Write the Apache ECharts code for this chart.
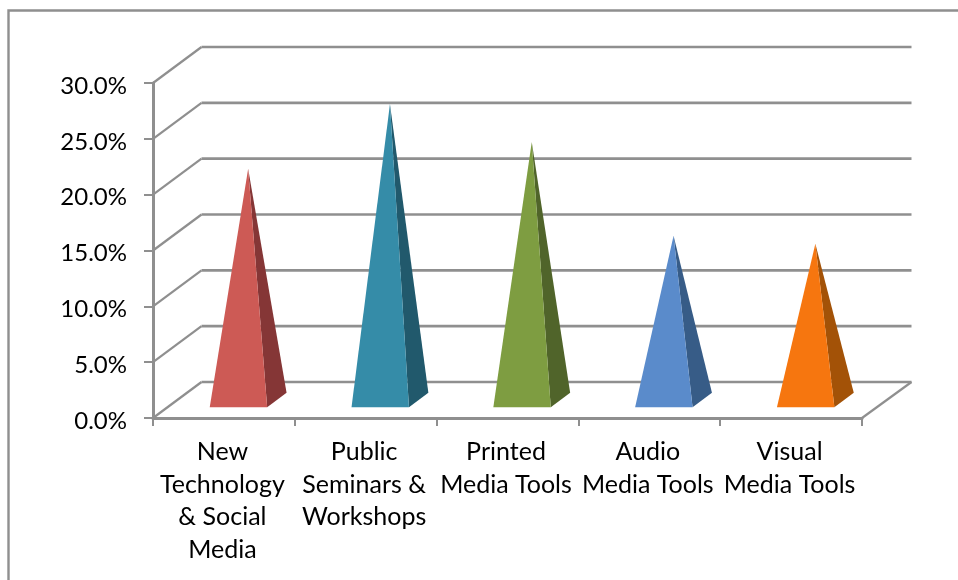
<!DOCTYPE html>
<html>
<head>
<meta charset="utf-8">
<style>html,body{margin:0;padding:0;background:#fff}#chart{width:958px;height:580px}</style>
<script src="https://cdn.jsdelivr.net/npm/echarts@6/dist/echarts.min.js"></script>
</head>
<body>
<div id="chart"></div>
<script>
// Share of respondents per communication channel
const categories = [
  'New\nTechnology\n& Social\nMedia',
  'Public\nSeminars &\nWorkshops',
  'Printed\nMedia Tools',
  'Audio\nMedia Tools',
  'Visual\nMedia Tools'
];
const shares = [0.207, 0.265, 0.231, 0.147, 0.14];
const yTicks = [0, 0.05, 0.1, 0.15, 0.2, 0.25, 0.3];
const faceColors = ['#CD5A55', '#358CA8', '#7E9D41', '#5A8BCB', '#F6760F'];
const sideColors = ['#853636', '#21596C', '#50642A', '#375C87', '#A35207'];

// Oblique projection of the depth axis, in pixels
const DEPTH_X = 48.5, DEPTH_Y = -36;
const GRID_COLOR = '#8F8F8F';
const BASE_SHARE = 0.405;   // base width as a share of the category band
const NEAR = 0.3, MID = 0.5, FAR = 0.7; // positions along the depth axis

const chart = echarts.init(document.getElementById('chart'), null, { renderer: 'canvas' });

function wallItem(params, api) {
  const v = api.value(0);
  const cs = params.coordSys;
  const p = api.coord([0, v]);
  const x0 = cs.x, x1 = cs.x + cs.width, y = p[1];
  const stroke = { stroke: GRID_COLOR, lineWidth: 2.2 };
  const children = [{
    type: 'line',
    shape: { x1: x0, y1: y, x2: x0 + DEPTH_X, y2: y + DEPTH_Y },
    style: stroke
  }, {
    type: 'line',
    shape: { x1: x0 + DEPTH_X, y1: y + DEPTH_Y, x2: x1 + DEPTH_X + 1, y2: y + DEPTH_Y },
    style: { stroke: GRID_COLOR, lineWidth: 2.6 }
  }];
  if (v === 0) {
    children.push({
      type: 'line',
      shape: { x1: x1, y1: y, x2: x1 + DEPTH_X + 1, y2: y + DEPTH_Y },
      style: stroke
    });
  }
  return { type: 'group', children };
}

function pyramidItem(params, api) {
  const i = api.value(0);
  const top = api.coord([i, api.value(1)]);
  const floor = api.coord([i, 0]);
  const half = api.size([1, 0])[0] * BASE_SHARE / 2;
  const fx = floor[0] + DEPTH_X * NEAR, fy = floor[1] + DEPTH_Y * NEAR;
  const bx = floor[0] + DEPTH_X * FAR, by = floor[1] + DEPTH_Y * FAR;
  const apex = [top[0] + DEPTH_X * MID, top[1] + DEPTH_Y * MID];
  return {
    type: 'group',
    children: [{
      type: 'polygon',
      shape: { points: [[fx + half, fy], [bx + half, by], apex] },
      style: { fill: sideColors[i] }
    }, {
      type: 'polygon',
      shape: { points: [[fx - half, fy], [fx + half, fy], apex] },
      style: { fill: faceColors[i] }
    }]
  };
}

chart.setOption({
  animation: false,
  backgroundColor: '#fff',
  graphic: [{
    type: 'polyline',
    shape: { points: [[8.5, 590], [8.5, 10.5], [970, 10.5]] },
    style: { fill: 'none', stroke: GRID_COLOR, lineWidth: 2.4 },
    silent: true
  }],
  grid: { left: 153, top: 83, width: 709, height: 335 },
  xAxis: {
    type: 'category',
    data: categories,
    boundaryGap: true,
    axisLine: { lineStyle: { color: GRID_COLOR, width: 3 } },
    axisTick: { show: true, alignWithLabel: false, length: 8, lineStyle: { color: GRID_COLOR, width: 2 } },
    axisLabel: {
      interval: 0, margin: 18, color: '#000', padding: [0, 3, 0, 0],
      fontFamily: 'Lato', fontSize: 25, lineHeight: 32.5
    }
  },
  yAxis: {
    type: 'value', min: 0, max: 0.3, interval: 0.05,
    axisLine: { show: true, lineStyle: { color: GRID_COLOR, width: 3 } },
    axisTick: { show: true, length: 9, lineStyle: { color: GRID_COLOR, width: 2 } },
    splitLine: { show: false },
    axisLabel: {
      margin: 26,
      formatter: v => '{pct|' + (v * 100).toFixed(1) + '%}',
      rich: {
        pct: { color: '#000', fontFamily: 'Lato', fontSize: 24, padding: [6, 0, 0, 0] }
      }
    }
  },
  series: [{
    type: 'custom',
    silent: true,
    z: 1,
    renderItem: wallItem,
    encode: { y: 0 },
    data: yTicks.map(v => [v])
  }, {
    type: 'custom',
    silent: true,
    z: 3,
    renderItem: pyramidItem,
    encode: { x: 0, y: 1 },
    clip: false,
    data: shares.map((v, i) => [i, v])
  }]
});
</script>
</body>
</html>
